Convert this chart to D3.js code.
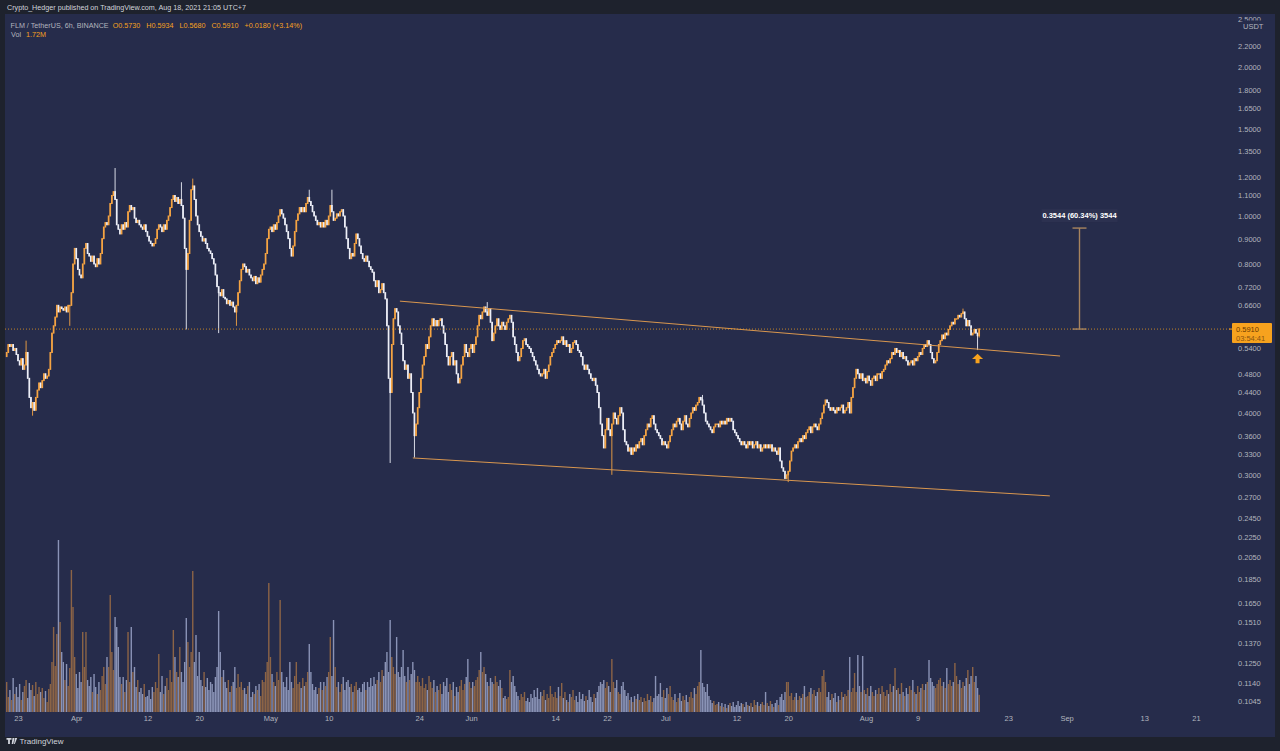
<!DOCTYPE html>
<html>
<head>
<meta charset="utf-8">
<script src="https://cdn.jsdelivr.net/npm/d3@7"></script>
<style>
  body { margin: 0; background: #1e222d; }
  svg { display: block; }
</style>
</head>
<body>
<div id="chart"></div>
<script>
// FLM / TetherUS 6h closes, one row per day, first bar Mar 21 06:00 UTC
const closes = [
  0.53, 0.55, 0.545, // Mar 21
  0.55, 0.535, 0.54, 0.525,
  0.51, 0.50, 0.515, 0.49,
  0.50, 0.53, 0.47, 0.43,
  0.41, 0.42, 0.405, 0.43,
  0.445, 0.46, 0.45, 0.465,
  0.48, 0.47, 0.475, 0.49,
  0.53, 0.58, 0.60, 0.625,
  0.66, 0.64, 0.655, 0.65,
  0.645, 0.655, 0.64, 0.66,
  0.66, 0.70, 0.80, 0.86,
  0.82, 0.78, 0.76, 0.75, // Apr 1
  0.80, 0.86, 0.88, 0.84,
  0.83, 0.81, 0.83, 0.80,
  0.79, 0.82, 0.80, 0.84,
  0.90, 0.95, 0.97, 0.96,
  1.00, 1.06, 1.10, 1.12,
  1.08, 0.96, 0.94, 0.92,
  0.96, 0.94, 0.97, 0.95,
  1.02, 1.05, 1.03, 1.04,
  0.99, 0.97, 0.98, 0.96,
  0.95, 0.94, 0.96, 0.93,
  0.91, 0.89, 0.88, 0.87,
  0.88, 0.90, 0.94, 0.96,
  0.95, 0.93, 0.96, 0.94,
  0.98, 1.00, 1.04, 1.08,
  1.10, 1.07, 1.09, 1.06,
  1.08, 1.05, 0.99, 0.86,
  0.78, 0.84, 0.98, 1.13,
  1.15, 1.08, 1.00, 0.96,
  0.93, 0.91, 0.89, 0.90,
  0.88, 0.86, 0.85, 0.84,
  0.82, 0.80, 0.76, 0.72,
  0.70, 0.69, 0.71, 0.685,
  0.68, 0.665, 0.675, 0.66,
  0.67, 0.655, 0.64, 0.66,
  0.70, 0.74, 0.78, 0.80,
  0.79, 0.77, 0.78, 0.76,
  0.75, 0.74, 0.755, 0.73,
  0.75, 0.735, 0.76, 0.78,
  0.80, 0.84, 0.90, 0.94,
  0.95, 0.93, 0.96, 0.94, // May 1
  0.97, 1.00, 1.03, 1.01,
  0.99, 0.96, 0.93, 0.90,
  0.86, 0.83, 0.87, 0.93,
  0.98, 1.01, 1.04, 1.02,
  1.04, 1.02, 1.06, 1.09,
  1.07, 1.05, 1.02, 1.00,
  0.98, 0.96, 0.97, 0.95,
  0.97, 0.95, 0.98, 0.96,
  1.00, 1.05, 1.02, 0.98,
  0.99, 1.01, 1.00, 1.02,
  1.03, 1.00, 0.95, 0.90,
  0.86, 0.82, 0.84, 0.83,
  0.88, 0.92, 0.90, 0.87,
  0.84, 0.82, 0.81, 0.83,
  0.81, 0.79, 0.78, 0.77,
  0.74, 0.72, 0.74, 0.70,
  0.71, 0.73, 0.70, 0.68,
  0.60, 0.47, 0.44, 0.55,
  0.62, 0.65, 0.64, 0.60,
  0.58, 0.55, 0.51, 0.49,
  0.50, 0.47, 0.48, 0.44,
  0.40, 0.36, 0.38, 0.41,
  0.44, 0.47, 0.50, 0.52,
  0.55, 0.54, 0.57, 0.60,
  0.62, 0.60, 0.615, 0.60,
  0.615, 0.62, 0.60, 0.58,
  0.55, 0.52, 0.50, 0.52,
  0.53, 0.50, 0.51, 0.48,
  0.46, 0.47, 0.50, 0.52,
  0.55, 0.53, 0.52, 0.54,
  0.55, 0.53, 0.55, 0.57, // Jun 1
  0.60, 0.63, 0.62, 0.64,
  0.655, 0.64, 0.63, 0.65,
  0.61, 0.56, 0.58, 0.60,
  0.62, 0.60, 0.59, 0.61,
  0.60, 0.59, 0.61, 0.62,
  0.63, 0.61, 0.57, 0.55,
  0.53, 0.51, 0.52, 0.54,
  0.56, 0.565, 0.55, 0.545,
  0.54, 0.53, 0.52, 0.51,
  0.50, 0.49, 0.48, 0.475,
  0.48, 0.49, 0.47, 0.485,
  0.50, 0.52, 0.53, 0.54,
  0.55, 0.56, 0.555, 0.56,
  0.57, 0.55, 0.56, 0.545,
  0.55, 0.53, 0.54, 0.555,
  0.56, 0.55, 0.535, 0.53,
  0.52, 0.50, 0.49, 0.50,
  0.49, 0.48, 0.47, 0.465,
  0.47, 0.455, 0.44, 0.41,
  0.38, 0.36, 0.34, 0.37,
  0.39, 0.37, 0.36, 0.38,
  0.40, 0.39, 0.38, 0.395,
  0.41, 0.40, 0.37, 0.35,
  0.345, 0.335, 0.34, 0.33,
  0.34, 0.335, 0.345, 0.34,
  0.35, 0.355, 0.345, 0.36,
  0.37, 0.38, 0.375, 0.39,
  0.395, 0.38, 0.37, 0.365,
  0.36, 0.355, 0.345, 0.35,
  0.345, 0.34, 0.35, 0.36, // Jul 1
  0.37, 0.38, 0.375, 0.385,
  0.39, 0.38, 0.37, 0.385,
  0.395, 0.38, 0.375, 0.39,
  0.40, 0.41, 0.405, 0.415,
  0.42, 0.43, 0.425, 0.415,
  0.40, 0.385, 0.38, 0.375,
  0.37, 0.365, 0.375, 0.38,
  0.38, 0.375, 0.385, 0.38,
  0.385, 0.38, 0.39, 0.385,
  0.39, 0.385, 0.37, 0.365,
  0.36, 0.355, 0.35, 0.345,
  0.35, 0.345, 0.34, 0.35,
  0.345, 0.35, 0.34, 0.345,
  0.35, 0.34, 0.345, 0.335,
  0.34, 0.345, 0.34, 0.345,
  0.34, 0.345, 0.335, 0.34,
  0.335, 0.33, 0.34, 0.32,
  0.31, 0.305, 0.295, 0.30,
  0.305, 0.32, 0.335, 0.34,
  0.345, 0.34, 0.35, 0.355,
  0.35, 0.36, 0.355, 0.365,
  0.37, 0.375, 0.365, 0.375,
  0.38, 0.375, 0.37, 0.38,
  0.39, 0.40, 0.415, 0.425,
  0.42, 0.41, 0.405, 0.41,
  0.405, 0.40, 0.41, 0.405,
  0.41, 0.415, 0.40, 0.405,
  0.41, 0.42, 0.40, 0.43,
  0.45, 0.47, 0.49, 0.48,
  0.47, 0.48, 0.465, 0.47,
  0.46, 0.475, 0.465, 0.455, // Aug 1
  0.47, 0.475, 0.465, 0.48,
  0.48, 0.47, 0.485, 0.49,
  0.50, 0.51, 0.505, 0.515,
  0.53, 0.525, 0.54, 0.53,
  0.535, 0.52, 0.53, 0.515,
  0.52, 0.51, 0.50, 0.505,
  0.51, 0.50, 0.515, 0.51,
  0.52, 0.53, 0.525, 0.54,
  0.55, 0.545, 0.56, 0.55,
  0.53, 0.515, 0.505, 0.51,
  0.53, 0.55, 0.56, 0.575,
  0.565, 0.58, 0.575, 0.59,
  0.60, 0.61, 0.605, 0.62,
  0.62, 0.63, 0.625, 0.635,
  0.64, 0.62, 0.60, 0.615,
  0.60, 0.575, 0.58, 0.59,
  0.58, 0.573, 0.591 // Aug 18
]

// volume in millions, same bars
const volumes = [
  3.0, 1.5, 2.2,
  1.2, 3.4, 1.8, 2.5,
  1.5, 2.8, 1.2, 2.0,
  2.6, 3.2, 1.4, 2.9,
  2.2, 2.7, 1.6, 3.0,
  1.8, 2.5, 2.0, 2.4,
  1.4, 2.1, 1.0, 2.3,
  2.8, 5.0, 8.5, 4.6,
  7.8, 17.2, 9.0, 6.0,
  5.0, 3.2, 4.8, 2.6,
  4.4, 14.2, 10.5, 5.5,
  3.8, 2.4, 4.0, 3.0,
  8.0, 4.5, 8.0, 3.2,
  2.6, 3.5, 2.0, 3.8,
  2.5, 1.8, 3.0, 2.2,
  3.6, 4.5, 2.8, 5.5,
  4.5, 11.7, 6.0, 4.2,
  9.5, 8.5, 6.5, 3.5,
  2.8, 3.5, 2.0, 3.2,
  8.0, 3.0, 8.5, 4.0,
  4.5, 2.5, 3.2, 2.0,
  2.4, 1.8, 2.8, 1.5,
  1.6, 2.2, 1.3, 2.5,
  2.0, 3.0, 2.4, 5.8,
  2.0, 3.6, 1.8, 2.6,
  3.4, 2.2, 4.2, 3.0,
  8.2, 5.5, 4.0, 3.5,
  6.5, 4.0, 3.0, 5.0,
  9.4, 7.0, 4.5, 6.0,
  14.1, 5.0, 7.7, 3.6,
  6.0, 3.2, 2.6, 4.0,
  2.5, 3.4, 2.2, 3.0,
  2.8, 2.0, 3.5, 4.5,
  10.1, 6.0, 3.5, 4.2,
  3.0, 2.4, 3.2, 2.0,
  2.6, 3.0, 4.5, 2.4,
  3.8, 2.5, 3.0, 2.2,
  2.4, 1.8, 2.6, 3.0,
  1.5, 2.0, 1.8, 2.6,
  2.2, 2.8, 1.6, 3.2,
  3.0, 4.0, 5.0, 12.9,
  5.5, 3.8, 3.0, 2.6,
  4.0, 3.2, 11.2, 4.0,
  3.0, 2.5, 3.5, 2.2,
  5.0, 3.0, 2.4, 3.6,
  5.0, 2.8, 3.0, 2.4,
  3.4, 2.6, 3.0, 4.0,
  6.8, 4.0, 2.8, 2.2,
  2.5, 1.8, 2.4, 3.0,
  2.2, 3.0, 2.6, 3.5,
  4.0, 7.5, 3.6, 9.2,
  4.5, 2.5, 3.0, 2.0,
  2.8, 3.5, 2.2, 3.0,
  3.2, 2.5, 2.8, 2.0,
  2.6, 3.0, 2.2, 2.4,
  2.0, 2.8, 3.0, 2.2,
  3.0, 2.5, 3.4, 2.6,
  3.5, 2.8, 3.2, 4.0,
  3.0, 4.2, 3.6, 5.0,
  6.0, 4.0, 9.2, 5.5,
  4.5, 3.8, 7.5, 4.0,
  3.5, 4.5, 6.2, 3.6,
  3.0, 4.5, 3.2, 3.8,
  5.0, 4.2, 3.0, 3.6,
  3.0, 2.6, 3.4, 2.4,
  2.8, 2.2, 3.6, 3.0,
  2.4, 3.2, 2.0, 2.6,
  2.2, 2.8, 1.8, 3.0,
  2.6, 3.4, 2.0, 2.8,
  2.2, 3.0, 1.6, 2.5,
  2.0, 2.6, 3.2, 2.2,
  2.8, 3.5, 5.3, 3.0,
  2.4, 3.0, 2.6, 3.2,
  3.5, 4.2, 6.0, 4.0,
  4.5, 3.8, 3.0, 2.6,
  3.4, 3.0, 2.8, 3.6,
  3.0, 2.6, 3.2, 2.4,
  1.4, 1.6, 1.3, 1.5,
  4.2, 3.0, 3.6, 2.6,
  2.0, 1.6, 1.2, 1.8,
  1.5, 2.0, 1.1, 1.4,
  1.0, 1.8, 1.4, 2.2,
  1.5, 2.4, 1.3, 2.0,
  1.6, 2.2, 1.2, 1.8,
  1.4, 2.6, 1.8, 1.5,
  2.0, 1.4, 2.5, 1.6,
  2.9, 1.4, 2.0, 1.2,
  1.0, 1.8, 1.5, 2.2,
  1.2, 1.6, 1.0, 2.0,
  1.3, 1.8, 1.1, 1.6,
  1.2, 2.2, 1.5, 1.0,
  1.8, 1.4, 2.0, 2.6,
  3.0, 2.8, 3.2, 2.4,
  3.0, 2.6, 2.0, 5.3,
  3.0, 2.4, 3.2, 2.0,
  1.8, 2.6, 3.0, 2.2,
  1.6, 1.9, 1.2, 1.5,
  1.0, 1.6, 1.3, 1.8,
  1.2, 1.5, 1.0, 1.4,
  1.1, 1.8, 1.2, 1.6,
  1.0, 1.4, 3.6, 1.6,
  1.8, 2.9, 1.5, 2.2,
  1.4, 2.4, 1.8, 2.6,
  1.5, 1.2, 1.8, 1.0,
  1.4, 1.9, 1.1, 1.6,
  1.2, 1.7, 1.0, 1.5,
  2.0, 1.4, 2.4, 1.8,
  2.6, 3.0, 6.2, 2.9,
  2.5, 2.0, 2.8, 1.6,
  1.2, 0.9, 1.1, 0.7,
  0.8, 1.0, 0.6, 0.9,
  0.5, 0.8, 0.4, 0.7,
  0.9, 0.6, 1.0, 0.5,
  0.7, 1.1, 0.6, 0.9,
  0.8, 0.5, 1.0, 0.7,
  0.6, 0.9, 0.5, 1.2,
  0.7, 1.0, 0.6, 0.8,
  1.0, 0.7, 2.0, 0.9,
  0.6, 1.1, 0.8, 0.5,
  0.9, 1.2, 0.7, 1.5,
  1.8, 1.2, 2.0, 3.0,
  3.0, 1.6, 1.9, 1.2,
  1.5, 1.9, 1.2, 1.6,
  1.4, 1.8, 2.6, 1.5,
  1.6, 2.0, 2.4, 1.8,
  2.2, 1.6, 2.0, 2.4,
  2.0, 3.6, 4.2, 3.0,
  1.5, 2.0, 1.2, 1.8,
  1.4, 1.9, 1.0, 1.6,
  1.2, 2.0, 1.5, 1.8,
  1.6, 2.2, 5.5, 2.0,
  2.4, 3.9, 2.0, 5.7,
  2.6, 2.0, 5.6, 2.2,
  1.8, 2.4, 1.6, 2.6,
  2.0, 1.6, 2.2, 1.8,
  2.4, 1.8, 2.6, 2.0,
  1.6, 2.2, 1.8, 2.8,
  2.0, 2.6, 4.4, 2.2,
  2.4, 1.8, 2.9, 2.0,
  1.6, 2.4, 1.8, 2.6,
  2.2, 3.2, 2.0, 1.8,
  2.6, 2.0, 2.4, 2.8,
  2.2, 2.8, 3.0, 5.2,
  3.4, 3.0, 2.6, 2.4,
  2.8, 3.2, 3.4, 2.6,
  3.0, 2.4, 4.4, 2.8,
  3.2, 2.6, 3.0, 4.9,
  3.6, 2.8, 3.2, 2.4,
  3.0, 2.6, 3.4, 4.2,
  2.8, 3.6, 4.5, 3.0,
  3.6, 2.4, 1.72
]

const firstOpen = 0.52

// long wicks visible on the chart: [bar index, high, low]
const wicks = [
  [12, 0.56, null], [16, null, 0.395], [39, null, 0.60], [67, 1.25, null],
  [108, 1.17, null], [111, null, 0.59], [115, 1.19, null], [131, null, 0.58],
  [142, null, 0.60], [187, 1.13, null], [201, 1.13, null], [237, null, 0.317],
  [252, null, 0.325], [297, 0.67, null], [374, null, 0.30], [430, 0.435, null],
  [483, null, 0.29], [591, 0.65, null], [600, null, 0.536], [601, 0.5934, 0.568]
]

const priceTicks = [2.5, 2.2, 2.0, 1.8, 1.65, 1.5, 1.35, 1.2, 1.1, 1.0, 0.9, 0.8, 0.72, 0.66,
  0.54, 0.48, 0.44, 0.40, 0.36, 0.33, 0.30, 0.27, 0.245, 0.225, 0.205, 0.185,
  0.165, 0.151, 0.137, 0.125, 0.114, 0.1045]

const dateTicks = ['2021-03-23', '2021-04-01', '2021-04-12', '2021-04-20', '2021-05-01', '2021-05-10',
  '2021-05-24', '2021-06-01', '2021-06-14', '2021-06-22', '2021-07-01', '2021-07-12', '2021-07-20',
  '2021-08-01', '2021-08-09', '2021-08-23', '2021-09-01', '2021-09-13', '2021-09-21']
const dateLabels = ['23', 'Apr', '12', '20', 'May', '10', '24', 'Jun', '14', '22', 'Jul', '12', '20',
  'Aug', '9', '23', 'Sep', '13', '21']

const upperTrendDates = ['2021-05-21T00:00Z', '2021-08-31T00:00Z']
const upperTrendPrices = [0.673, 0.5214]
const lowerTrendDates = ['2021-05-23T00:00Z', '2021-08-29T10:00Z']
const lowerTrendPrices = [0.3245, 0.272]

const measureDate = '2021-09-03T00:00Z'
const measurePrices = [0.591, 0.9454]
const arrowBar = 600
const arrowPrice = 0.527
const lastPrice = 0.591

const legendTexts = ['FLM / TetherUS, 6h, BINANCE', 'O0.5730', 'H0.5934', 'L0.5680', 'C0.5910', '+0.0180 (+3.14%)']

const W = 1280
const H = 751
const BAR_MS = 6 * 3600 * 1000
const FIRST_BAR = Date.UTC(2021, 2, 21, 6)

const BG = '#1e222d'
const PANEL = '#262c4b'
const UP = '#f5a443'
const DOWN = '#eceef7'
const VOL_UP = '#8c6446'
const VOL_DOWN = '#8a93b6'
const AXIS_TXT = '#b2b5be'
const ORANGE = '#f7a21e'
const FONT = 'Liberation Sans, Arial, sans-serif'

const x = d3.scaleUtc()
  .domain([new Date('2021-03-23T00:00Z'), new Date('2021-09-21T00:00Z')])
  .range([18, 1196])
const y = d3.scaleLog().domain([0.1, 1]).range([711, 216])
const yVol = d3.scaleLinear().domain([0, 17.2]).range([712, 540])

const wickMap = new Map(wicks.map((w) => [w[0], w]))

const bars = closes.map((c, i) => {
  const o = i === 0 ? firstOpen : closes[i - 1]
  const w = wickMap.get(i)
  let h = Math.max(o, c)
  let l = Math.min(o, c)
  if (w && w[1] != null) h = Math.max(h, w[1])
  if (w && w[2] != null) l = Math.min(l, w[2])
  return { t: new Date(FIRST_BAR + i * BAR_MS), o, c, h, l, v: volumes[i] }
})

const svg = d3.select('#chart').append('svg').attr('width', W).attr('height', H)
  .style('font-family', FONT)

svg.append('rect').attr('width', W).attr('height', H).attr('fill', BG)
svg.append('rect').attr('x', 5).attr('y', 14).attr('width', 1270).attr('height', 723).attr('fill', PANEL)

svg.append('clipPath').attr('id', 'plot')
  .append('rect').attr('x', 5).attr('y', 14).attr('width', 1223).attr('height', 723)

const plot = svg.append('g').attr('clip-path', 'url(#plot)')

// volume
plot.append('g').selectAll('rect').data(bars).join('rect')
  .attr('x', (d) => x(d.t) - 0.7)
  .attr('width', 1.4)
  .attr('y', (d) => yVol(d.v))
  .attr('height', (d) => yVol(0) - yVol(d.v))
  .attr('fill', (d) => (d.c >= d.o ? VOL_UP : VOL_DOWN))

// candles
const candles = plot.append('g')
candles.selectAll('line').data(bars).join('line')
  .attr('x1', (d) => x(d.t)).attr('x2', (d) => x(d.t))
  .attr('y1', (d) => y(d.h)).attr('y2', (d) => y(d.l))
  .attr('stroke', (d) => (d.c >= d.o ? UP : DOWN))
  .attr('stroke-width', 0.9)
candles.selectAll('rect').data(bars).join('rect')
  .attr('x', (d) => x(d.t) - 0.85)
  .attr('width', 1.7)
  .attr('y', (d) => y(Math.max(d.o, d.c)) - 0.5)
  .attr('height', (d) => Math.max(1.5, y(Math.min(d.o, d.c)) - y(Math.max(d.o, d.c)) + 1))
  .attr('fill', (d) => (d.c >= d.o ? UP : DOWN))

// channel lines
const trend = (dates, prices) => {
  plot.append('line')
    .attr('x1', x(new Date(dates[0]))).attr('y1', y(prices[0]))
    .attr('x2', x(new Date(dates[1]))).attr('y2', y(prices[1]))
    .attr('stroke', '#d9974f')
    .attr('stroke-width', 1)
}
trend(upperTrendDates, upperTrendPrices)
trend(lowerTrendDates, lowerTrendPrices)

// last price line
svg.append('line')
  .attr('x1', 5).attr('x2', 1230)
  .attr('y1', y(lastPrice)).attr('y2', y(lastPrice))
  .attr('stroke', ORANGE).attr('stroke-opacity', 0.75)
  .attr('stroke-dasharray', '1,2')

// price range measure
const mx = x(new Date(measureDate))
const m = svg.append('g').attr('stroke', '#a8845e').attr('stroke-width', 1.4)
m.append('line').attr('x1', mx).attr('x2', mx).attr('y1', y(measurePrices[0])).attr('y2', y(measurePrices[1]))
measurePrices.forEach((p) => {
  m.append('line').attr('x1', mx - 7).attr('x2', mx + 7).attr('y1', y(p)).attr('y2', y(p))
})
svg.append('rect')
  .attr('x', mx - 38).attr('y', y(measurePrices[1]) - 19)
  .attr('width', 76).attr('height', 13)
  .attr('fill', '#2c3150')
svg.append('text')
  .attr('x', mx).attr('y', y(measurePrices[1]) - 12.5)
  .attr('dy', '0.35em')
  .attr('text-anchor', 'middle')
  .attr('fill', '#ffffff')
  .attr('font-size', 7.5)
  .attr('font-weight', 'bold')
  .text('0.3544 (60.34%) 3544')

// arrow under the retest
const ax = x(new Date(FIRST_BAR + arrowBar * BAR_MS))
const ay = y(arrowPrice)
svg.append('path')
  .attr('transform', `translate(${ax},${ay})`)
  .attr('d', 'M0,0 L5.5,5.2 L2,5.2 L2,9.5 L-2,9.5 L-2,5.2 L-5.5,5.2 Z')
  .attr('fill', ORANGE)

// price axis
const yAxis = svg.append('g')
  .attr('transform', 'translate(1238,0)')
  .call(d3.axisRight(y).tickValues(priceTicks).tickFormat(d3.format('.4f')).tickSize(0).tickPadding(0))
yAxis.select('.domain').remove()
yAxis.selectAll('text').attr('fill', AXIS_TXT).attr('font-size', 7.5).attr('font-family', FONT)

// currency label covers the top tick
svg.append('rect').attr('x', 1243).attr('y', 20.5).attr('width', 30).attr('height', 10).attr('fill', PANEL)
svg.append('text').attr('x', 1243).attr('y', 26).attr('dy', '0.35em')
  .attr('fill', AXIS_TXT).attr('font-size', 7.5).text('USDT')

// last price tag
const ly = y(lastPrice)
svg.append('line').attr('x1', 1229).attr('x2', 1233).attr('y1', ly).attr('y2', ly).attr('stroke', ORANGE)
svg.append('rect').attr('x', 1232).attr('y', ly - 6).attr('width', 40).attr('height', 20)
  .attr('rx', 1).attr('fill', ORANGE)
svg.append('text').attr('x', 1236).attr('y', ly).attr('dy', '0.35em')
  .attr('fill', '#6a3a00').attr('font-size', 7.5).text(d3.format('.4f')(lastPrice))
svg.append('text').attr('x', 1236).attr('y', ly + 9).attr('dy', '0.35em')
  .attr('fill', '#8a5410').attr('font-size', 7.5).text('03:54:41')

// time axis
const xAxis = svg.append('g')
  .attr('transform', 'translate(0,712)')
  .call(d3.axisBottom(x)
    .tickValues(dateTicks.map((d) => new Date(d + 'T00:00Z')))
    .tickFormat((d, i) => dateLabels[i])
    .tickSize(0).tickPadding(4))
xAxis.select('.domain').remove()
xAxis.selectAll('text').attr('fill', AXIS_TXT).attr('font-size', 7.5).attr('font-family', FONT)

// header
svg.append('text').attr('x', 7).attr('y', 7.5).attr('dy', '0.35em')
  .attr('fill', '#d1d4dc').attr('font-size', 7.5)
  .attr('textLength', 239).attr('lengthAdjust', 'spacingAndGlyphs')
  .text('Crypto_Hedger published on TradingView.com, Aug 18, 2021 21:05 UTC+7')

// legend laid out left to right, each piece after the previous one
let lx = 10.5
legendTexts.forEach((t, i) => {
  const el = svg.append('text').attr('x', lx).attr('y', 25).attr('dy', '0.35em')
    .attr('fill', i === 0 ? AXIS_TXT : ORANGE).attr('font-size', 7.2)
    .text(t)
  lx += el.node().getComputedTextLength() + (i === 0 ? 4 : 6)
})
const volLbl = svg.append('text').attr('x', 11).attr('y', 34).attr('dy', '0.35em')
  .attr('fill', AXIS_TXT).attr('font-size', 7.2).text('Vol')
svg.append('text').attr('x', 11 + volLbl.node().getComputedTextLength() + 5).attr('y', 34).attr('dy', '0.35em')
  .attr('fill', ORANGE).attr('font-size', 7.2).text('1.72M')

// footer logo
svg.append('path')
  .attr('d', 'M6.5,738 h5 v1.8 h-1.6 v4.2 h-1.8 v-4.2 h-1.6 Z M12.5,738 h2 l-1.2,6 h-1.6 Z M15,738 h2.2 l-2.4,6 h-0.8 Z')
  .attr('fill', '#d1d4dc')
svg.append('text').attr('x', 19.5).attr('y', 741).attr('dy', '0.35em')
  .attr('fill', '#d1d4dc').attr('font-size', 8).text('TradingView')
</script>
</body>
</html>
